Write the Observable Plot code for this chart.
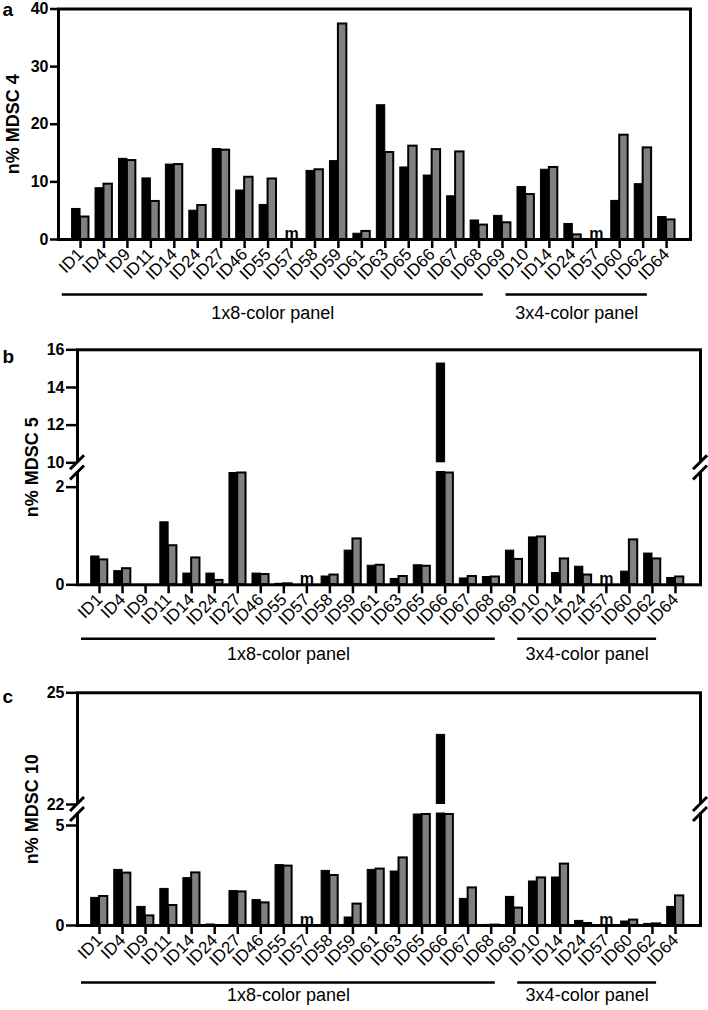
<!DOCTYPE html>
<html><head><meta charset="utf-8">
<script src="https://cdn.jsdelivr.net/npm/d3@7"></script>
<script src="https://cdn.jsdelivr.net/npm/@observablehq/plot@0.6"></script>
<style>body{margin:0;background:#fff;} svg{display:block;}</style>
</head><body><div id="chart"></div>
<script>
// ---- data ----
const labels = ["ID1","ID4","ID9","ID11","ID14","ID24","ID27","ID46","ID55","ID57","ID58","ID59","ID61","ID63","ID65","ID66","ID67","ID68","ID69","ID10","ID14","ID24","ID57","ID60","ID62","ID64"];
const groups = [
  {label: "1x8-color panel", first: 0, last: 17},
  {label: "3x4-color panel", first: 18, last: 24}
];
// null = "m" (missing)
const mdsc4Black = [5.3, 8.9, 14.0, 10.6, 13.0, 5.0, 15.7, 8.5, 6.0, null, 11.9, 13.6, 1.0, 23.3, 12.5, 11.1, 7.5, 3.3, 4.1, 9.1, 12.1, 2.7, null, 6.7, 9.6, 3.9];
const mdsc4Gray  = [3.9, 9.6, 13.7, 6.6, 13.0, 5.9, 15.5, 10.8, 10.5, null, 12.1, 37.4, 1.4, 15.1, 16.2, 15.6, 15.2, 2.5, 2.9, 7.8, 12.5, 0.8, null, 18.1, 15.9, 3.4];
const mdsc5Black = [0.58, 0.28, 0, 1.28, 0.23, 0.23, 2.6, 0.23, 0.02, null, 0.17, 0.70, 0.39, 0.12, 0.40, 15.27, 0.13, 0.16, 0.70, 0.97, 0.24, 0.37, null, 0.27, 0.64, 0.14];
const mdsc5Gray  = [0.51, 0.33, 0, 0.80, 0.55, 0.09, 2.6, 0.21, 0.02, null, 0.20, 0.94, 0.40, 0.17, 0.38, 2.6, 0.17, 0.16, 0.52, 0.98, 0.53, 0.20, null, 0.92, 0.53, 0.16];
const mdsc10Black = [1.38, 2.78, 0.93, 1.83, 2.37, 0.05, 1.72, 1.27, 3.02, null, 2.73, 0.40, 2.78, 2.70, 5.9, 23.87, 1.33, 0.03, 1.43, 2.20, 2.40, 0.23, null, 0.20, 0.08, 0.93];
const mdsc10Gray  = [1.45, 2.62, 0.48, 1.00, 2.63, 0, 1.68, 1.13, 2.97, null, 2.50, 1.07, 2.82, 3.38, 5.8, 5.8, 1.88, 0.02, 0.87, 2.38, 3.07, 0.10, null, 0.27, 0.08, 1.48];
const yTicks4 = [0, 10, 20, 30, 40];
const yTicks5 = [0, 2, 10, 12, 14, 16];
const yTicks10 = [0, 5, 22, 25];

// ---- drawing ----
const FONT = '"Liberation Sans", Arial, Helvetica, sans-serif';
const BW = 0.36;
const lineX1 = g => g.first === 0 ? g.first - 0.78 : g.first + 0.15;
const lineX2 = g => g.last + 0.18;

function panel(cfg) {
  const rows = labels.map((label, i) => ({i, label, black: cfg.black[i], gray: cfg.gray[i]}));
  const hasBreak = cfg.lowerMax != null;
  const plotH = cfg.height - cfg.mt - cfg.mb;
  // broken-axis transform: value -> position along the (pixel-proportional) y domain
  let t, yDomain;
  if (hasBreak) {
    const upperPx = plotH - cfg.lowerPx - cfg.gapPx;
    t = v => v <= cfg.lowerMax ? v / cfg.lowerMax * cfg.lowerPx
      : v < cfg.upperMin ? cfg.lowerPx
      : cfg.lowerPx + cfg.gapPx + (v - cfg.upperMin) / (cfg.upperMax - cfg.upperMin) * upperPx;
    yDomain = [0, plotH];
  } else {
    t = v => v;
    yDomain = [0, cfg.yMax];
  }
  const tickPos = cfg.yTicks.map(t);
  const tickLabel = new Map(tickPos.map((p, i) => [p, cfg.yTicks[i]]));

  const marks = [
    Plot.rect(rows.filter(d => d.black != null), {x1: d => d.i - BW, x2: d => d.i, y1: () => 0, y2: d => t(d.black), fill: "black", stroke: "black", strokeWidth: 1}),
    Plot.rect(rows.filter(d => d.gray != null), {x1: d => d.i, x2: d => d.i + BW, y1: () => 0, y2: d => t(d.gray), fill: "#808080", stroke: "black", strokeWidth: 2}),
    Plot.text(rows.filter(d => d.black == null), {x: "i", y: () => 0, text: () => "m", lineAnchor: "bottom", dy: -1, fontSize: 16, fontWeight: "bold"}),
    Plot.frame({stroke: "black", strokeWidth: 3}),
  ];
  if (hasBreak) {
    const gTop = t(cfg.upperMin), gBot = cfg.lowerPx;
    marks.push((index, scales, values, dims) => {
      const yTop = scales.y(gTop), yBot = scales.y(gBot);
      const xl = dims.marginLeft, xr = dims.width - dims.marginRight;
      const g = d3.create("svg:g");
      g.append("rect").attr("x", xl - 5).attr("width", xr - xl + 10)
        .attr("y", yTop).attr("height", yBot - yTop - 1.5).attr("fill", "white");
      for (const x of [xl, xr]) for (const y of [yTop, yBot]) {
        g.append("line").attr("x1", x - 7).attr("y1", y + 7).attr("x2", x + 7).attr("y2", y - 7)
          .attr("stroke", "black").attr("stroke-width", 3);
      }
      return g.node();
    });
  }
  marks.push(
    Plot.axisY(tickPos, {tickFormat: d => tickLabel.get(d), tickSize: cfg.ytickSize, tickPadding: 2, strokeWidth: 2.5, fontSize: 16, fontWeight: "bold", label: null}),
    Plot.axisX(d3.range(labels.length), {tickFormat: i => labels[i], tickRotate: -45, tickSize: 9, tickPadding: 3, strokeWidth: 2.5, fontSize: 17, label: null}),
    Plot.ruleY(groups, {x1: lineX1, x2: lineX2, y: () => 0, dy: cfg.lineDy, stroke: "black", strokeWidth: 2.5}),
    Plot.text(groups, {x: g => (lineX1(g) + lineX2(g)) / 2, y: () => 0, dy: cfg.textDy, text: "label", lineAnchor: "top", fontSize: 18}),
    Plot.text([cfg.ylabel], {text: d => d, frameAnchor: "left", dx: -45, rotate: -90, textAnchor: "middle", fontSize: 18, fontWeight: "bold"}),
    Plot.text([cfg.letter], {text: d => d, frameAnchor: "top-left", dx: cfg.letterDx, dy: cfg.letterDy, textAnchor: "start", lineAnchor: "bottom", fontSize: 19, fontWeight: "bold"})
  );
  return Plot.plot({
    width: 708, height: cfg.height,
    marginLeft: cfg.ml, marginRight: cfg.mr, marginTop: cfg.mt, marginBottom: cfg.mb,
    style: {fontFamily: FONT, color: "black", background: "white", overflow: "visible"},
    x: {domain: cfg.xDomain, axis: null},
    y: {domain: yDomain, axis: null},
    marks
  });
}

const chart = document.getElementById("chart");
chart.append(panel({
  letter: "a", ylabel: "n% MDSC 4", black: mdsc4Black, gray: mdsc4Gray, yTicks: yTicks4, yMax: 40,
  height: 336, ml: 58, mr: 18, mt: 8.5, mb: 97, xDomain: [-0.94, 26.02], ytickSize: 8,
  lineDy: 55, textDy: 67, letterDx: -56, letterDy: 7
}));
chart.append(panel({
  letter: "b", ylabel: "n% MDSC 5", black: mdsc5Black, gray: mdsc5Gray, yTicks: yTicks5,
  lowerMax: 2.29, upperMin: 10, upperMax: 16, lowerPx: 111.8, gapPx: 10.2,
  height: 336, ml: 77, mr: 8, mt: 13.3, mb: 87.7, xDomain: [-0.955, 26.085], ytickSize: 11,
  lineDy: 54, textDy: 62, letterDx: -75, letterDy: 13
}));
chart.append(panel({
  letter: "c", ylabel: "n% MDSC 10", black: mdsc10Black, gray: mdsc10Gray, yTicks: yTicks10,
  lowerMax: 5.55, upperMin: 22, upperMax: 25, lowerPx: 111, gapPx: 10,
  height: 338, ml: 77, mr: 8, mt: 20.3, mb: 85, xDomain: [-0.955, 26.085], ytickSize: 11,
  lineDy: 57, textDy: 63, letterDx: -75, letterDy: 10
}));
</script>
</body></html>
